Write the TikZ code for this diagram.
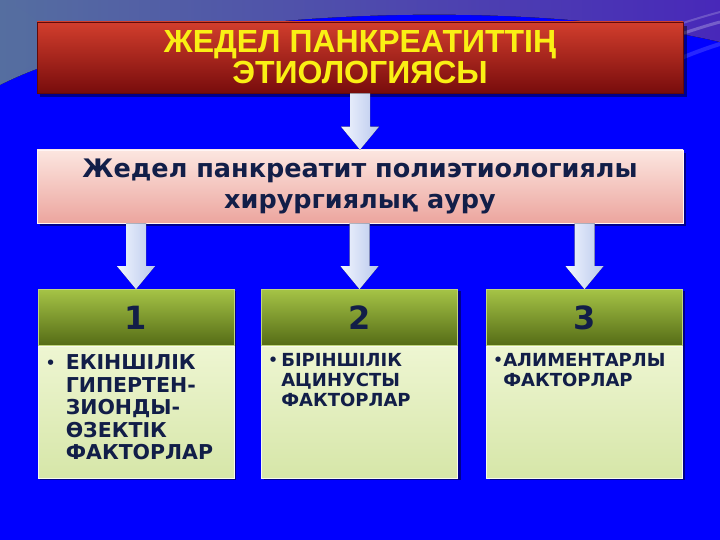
\documentclass[tikz,border=0pt]{standalone}
\usepackage{fontspec}
\setmainfont{DejaVu Sans}
\newfontfamily\titlefont{Liberation Sans}
\usetikzlibrary{calc}
\definecolor{bgblue}{RGB}{0,0,255}
\definecolor{navy}{RGB}{18,30,72}
\definecolor{ttlyellow}{RGB}{250,240,20}
\definecolor{redtop}{RGB}{210,62,45}
\definecolor{redbot}{RGB}{120,12,12}
\definecolor{pinktop}{RGB}{252,230,224}
\definecolor{pinkbot}{RGB}{236,165,158}
\definecolor{greentop}{RGB}{165,195,70}
\definecolor{greenbot}{RGB}{85,108,22}
\definecolor{bodytop}{RGB}{238,246,210}
\definecolor{bodybot}{RGB}{214,230,168}
\definecolor{arrL}{RGB}{242,246,255}
\definecolor{arrR}{RGB}{185,200,236}
\definecolor{swgray}{RGB}{85,110,160}
\definecolor{swpurple}{RGB}{72,40,185}
\tikzset{
  shadowbox/.style={fill=black,opacity=0.45},
  titlebox/.style={minimum width=646pt,minimum height=71pt,inner sep=0pt,
    top color=redtop,bottom color=redbot,draw=redbot!80!black,line width=0.6pt,
    text=ttlyellow,align=center,font=\titlefont\bfseries\fontsize{32}{31}\selectfont},
  pinkbox/.style={minimum width=646pt,minimum height=73pt,inner sep=0pt,
    top color=pinktop,bottom color=pinkbot,draw=white!85!pink,line width=0.6pt,
    text=navy,align=center,font=\bfseries\fontsize{25.5}{31}\selectfont},
  headbox/.style={minimum width=196pt,minimum height=56pt,inner sep=0pt,
    top color=greentop,bottom color=greenbot,draw=greentop!70!white,line width=0.6pt,
    text=navy,font=\bfseries\fontsize{32}{32}\selectfont},
  bodybox/.style={minimum width=196pt,minimum height=132pt,inner sep=0pt,
    top color=bodytop,bottom color=bodybot,draw=white!80!bodybot,line width=1pt},
  bodytext/.style={anchor=north west,inner sep=0pt,text=navy,align=left},
  arrowshade/.style={left color=arrL,right color=arrR}
}
\newcommand\fatarrow[2]{%
  \fill[arrowshade] ($(#1)+(-10,0)$) -- ($(#2)+(-10,-23)$) -- ($(#2)+(-19,-23)$)
    -- (#2) -- ($(#2)+(19,-23)$) -- ($(#2)+(10,-23)$) -- ($(#1)+(10,0)$) -- cycle;}
\newcommand\bul{\raisebox{0.25em}{\fontsize{7}{7}\selectfont●}}
\begin{document}
\begin{tikzpicture}[x=1pt,y=-1pt]
\useasboundingbox (0,0) rectangle (720,540);
% background
\fill[bgblue] (0,0) rectangle (720,540);
\fill[left color=swgray,right color=swpurple] (0,0) -- (0,85) .. controls (150,8) and (520,-5) .. (720,42) -- (720,0) -- cycle;
\fill[swgray,opacity=0.6] (0,0) -- (0,82) .. controls (20,72) and (40,60) .. (60,50) .. controls (50,30) and (30,10) .. (0,0) -- cycle;
\draw[white,opacity=0.25,line width=3pt] (600,62) .. controls (650,45) and (690,30) .. (720,22);
\draw[white,opacity=0.2,line width=2pt] (610,48) .. controls (655,32) and (690,20) .. (720,12);
\draw[white,opacity=0.15,line width=4pt] (630,80) .. controls (670,62) and (700,50) .. (720,44);
% shadows
\fill[shadowbox] (40,26) rectangle (687,97);
\fill[shadowbox] (40,153) rectangle (686,226);
\fill[shadowbox] (40,291) rectangle (236,480);
\fill[shadowbox] (264,291) rectangle (461,480);
\fill[shadowbox] (490,291) rectangle (685,480);
% title
\node[titlebox] (title) at (360,57.5) {ЖЕДЕЛ ПАНКРЕАТИТТІҢ\\ЭТИОЛОГИЯСЫ};
% pink
\node[pinkbox] (pink) at (360,186.5) {Жедел панкреатит полиэтиологиялы\\хирургиялық ауру};
% green boxes
\node[headbox] (h1) at (136,317.5) {\raisebox{-3pt}{1}};
\node[headbox] (h2) at (359.5,317.5) {\raisebox{-3pt}{2}};
\node[headbox] (h3) at (584.5,317.5) {\raisebox{-3pt}{3}};
\node[bodybox,anchor=north] (b1) at (h1.south) {};
\node[bodybox,anchor=north] (b2) at (h2.south) {};
\node[bodybox,anchor=north] (b3) at (h3.south) {};
\node[bodytext,font=\bfseries\fontsize{20.5}{22.5}\selectfont] (t1) at ($(b1.north west)+(10,8)$)
  {\begin{tabular}{@{}l@{\hspace{12pt}}l@{}}\bul&ЕКІНШІЛІК\\&ГИПЕРТЕН-\\&ЗИОНДЫ-\\&ӨЗЕКТІК\\&ФАКТОРЛАР\end{tabular}};
\node[bodytext,font=\bfseries\fontsize{18}{20}\selectfont] (t2) at ($(b2.north west)+(9,6)$)
  {\begin{tabular}{@{}l@{\hspace{5pt}}l@{}}\bul&БІРІНШІЛІК\\&АЦИНУСТЫ\\&ФАКТОРЛАР\end{tabular}};
\node[bodytext,font=\bfseries\fontsize{18}{20}\selectfont] (t3) at ($(b3.north west)+(9,6)$)
  {\begin{tabular}{@{}l@{\hspace{2pt}}l@{}}\bul&АЛИМЕНТАРЛЫ\\&ФАКТОРЛАР\end{tabular}};
% arrows
\coordinate (a0) at (title.south -| pink.north);
\coordinate (a1) at (pink.south -| h1.north);
\coordinate (a2) at (pink.south -| h2.north);
\coordinate (a3) at (pink.south -| h3.north);
\fatarrow{a0}{pink.north}
\fatarrow{a1}{h1.north}
\fatarrow{a2}{h2.north}
\fatarrow{a3}{h3.north}
\end{tikzpicture}
\end{document}
